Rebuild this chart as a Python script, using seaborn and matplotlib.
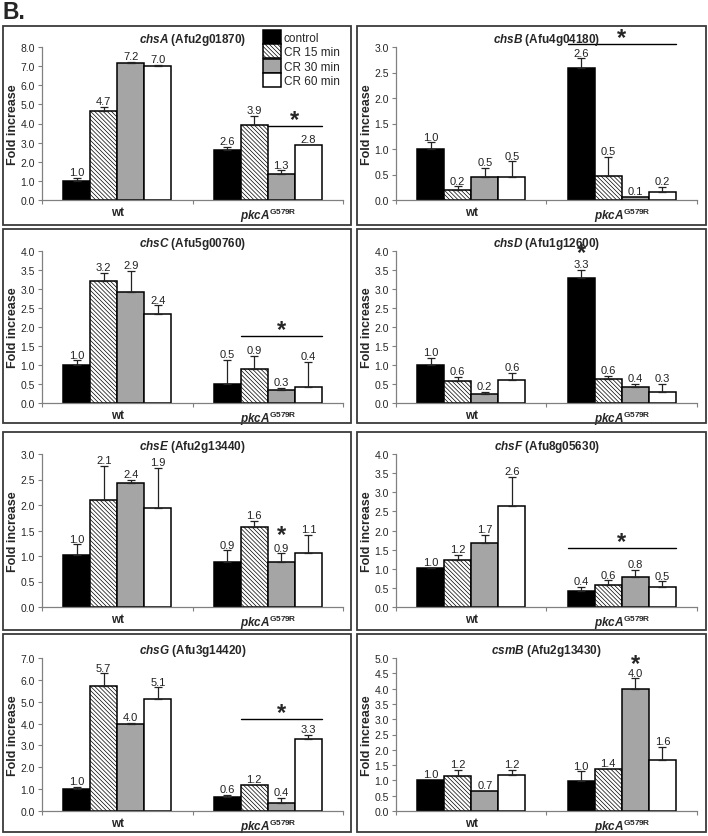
import matplotlib
matplotlib.use("Agg")
import matplotlib.pyplot as plt
import seaborn as sns
import pandas as pd
from matplotlib.patches import Rectangle
from matplotlib.ticker import MultipleLocator, FormatStrFormatter

sns.set_theme(style="ticks")
plt.rcParams.update({
    "font.family": ["Liberation Sans", "DejaVu Sans"],
    "mathtext.fontset": "custom",
    "mathtext.rm": "Liberation Sans",
    "mathtext.it": "Liberation Sans:italic",
    "mathtext.bf": "Liberation Sans:bold",
    "mathtext.bfit": "Liberation Sans:italic:bold",
    "hatch.linewidth": 0.5,
    "figure.facecolor": "white",
})

# ── data ─────────────────────────────────────────────────────────────────────
STRAINS = ["wt", "pkcA"]
STRAIN_LABELS = ["wt", r"$\mathbfit{pkcA}^{\mathbf{G579R}}$"]
TREATMENTS = ["control", "CR 15 min", "CR 30 min", "CR 60 min"]
COLORS = ["black", "white", "#a5a5a5", "white"]

GENES = ["chsA", "chsB", "chsC", "chsD", "chsE", "chsF", "chsG", "csmB"]
LOCI = ["Afu2g01870", "Afu4g04180", "Afu5g00760", "Afu1g12600",
        "Afu2g13440", "Afu8g05630", "Afu3g14420", "Afu2g13430"]
YMAX = [8, 3, 4, 4, 3, 4, 7, 5]
YSTEP = [1, 0.5, 0.5, 0.5, 0.5, 0.5, 1, 0.5]

# fold increase: wt (control, 15, 30, 60) then pkcA (control, 15, 30, 60)
chsA_mean = [1.01, 4.66, 7.17, 7.01, 2.61, 3.91, 1.36, 2.87]
chsA_err = [0.16, 0.21, 0.05, 0.05, 0.17, 0.49, 0.19, 0.0]
chsA_lab = ["1.0", "4.7", "7.2", "7.0", "2.6", "3.9", "1.3", "2.8"]
chsB_mean = [1.0, 0.2, 0.45, 0.45, 2.59, 0.47, 0.065, 0.16]
chsB_err = [0.13, 0.07, 0.18, 0.31, 0.19, 0.37, 0.0, 0.1]
chsB_lab = ["1.0", "0.2", "0.5", "0.5", "2.6", "0.5", "0.1", "0.2"]
chsC_mean = [1.0, 3.2, 2.92, 2.35, 0.51, 0.89, 0.33, 0.41]
chsC_err = [0.12, 0.22, 0.55, 0.22, 0.63, 0.36, 0.06, 0.67]
chsC_lab = ["1.0", "3.2", "2.9", "2.4", "0.5", "0.9", "0.3", "0.4"]
chsD_mean = [1.0, 0.58, 0.23, 0.6, 3.3, 0.63, 0.42, 0.3]
chsD_err = [0.18, 0.1, 0.06, 0.19, 0.21, 0.09, 0.08, 0.21]
chsD_lab = ["1.0", "0.6", "0.2", "0.6", "3.3", "0.6", "0.4", "0.3"]
chsE_mean = [1.01, 2.09, 2.44, 1.95, 0.89, 1.57, 0.89, 1.06]
chsE_err = [0.22, 0.68, 0.05, 0.78, 0.22, 0.12, 0.16, 0.36]
chsE_lab = ["1.0", "2.1", "2.4", "1.9", "0.9", "1.6", "0.9", "1.1"]
chsF_mean = [1.01, 1.23, 1.67, 2.63, 0.43, 0.57, 0.78, 0.53]
chsF_err = [0.02, 0.14, 0.21, 0.77, 0.09, 0.13, 0.19, 0.14]
chsF_lab = ["1.0", "1.2", "1.7", "2.6", "0.4", "0.6", "0.8", "0.5"]
chsG_mean = [0.99, 5.7, 3.99, 5.12, 0.64, 1.21, 0.38, 3.29]
chsG_err = [0.1, 0.6, 0.05, 0.54, 0.09, 0.0, 0.22, 0.2]
chsG_lab = ["1.0", "5.7", "4.0", "5.1", "0.6", "1.2", "0.4", "3.3"]
csmB_mean = [1.01, 1.16, 0.65, 1.17, 0.98, 1.38, 4.0, 1.66]
csmB_err = [0.0, 0.18, 0.0, 0.17, 0.32, 0.0, 0.34, 0.44]
csmB_lab = ["1.0", "1.2", "0.7", "1.2", "1.0", "1.4", "4.0", "1.6"]

MEANS = [chsA_mean, chsB_mean, chsC_mean, chsD_mean, chsE_mean, chsF_mean, chsG_mean, csmB_mean]
ERRS = [chsA_err, chsB_err, chsC_err, chsD_err, chsE_err, chsF_err, chsG_err, csmB_err]
LABS = [chsA_lab, chsB_lab, chsC_lab, chsD_lab, chsE_lab, chsF_lab, chsG_lab, csmB_lab]

# significance (*) in pkcA group: first bar, last bar, level
SIG = [(2, 3, 3.86), (0, 3, 3.06), (1, 3, 1.76), (0, 0, 3.97),
       (2, 2, 1.44), (0, 3, 1.55), (1, 3, 4.22), (2, 2, 4.84)]

# ── layout (pixels) ──────────────────────────────────────────────────────────
W, H = 708, 837
COL_AX = [(42, 343), (396, 697)]
ROW_AX = [(48, 201), (252, 404), (455, 608), (659, 812)]
COL_BOX = [(3, 351), (357, 706)]
ROW_BOX = [(27, 226), (230, 424), (433, 631), (635, 833)]

fig = plt.figure(figsize=(W / 100, H / 100), dpi=100)
fig.text(2 / W, 1 - 1 / H, "B.", fontsize=16.5, fontweight="bold", ha="left", va="top")

STAR_FS = 17


def star(ax, x, y, lift=0):
    # mathtext keeps the text box tight around the glyph
    ax.annotate(r"$\mathbf{*}$", (x, y), xytext=(0, lift), textcoords="offset points",
                ha="center", va="center", fontsize=STAR_FS,
                annotation_clip=False)


for i, gene in enumerate(GENES):
    r, c = divmod(i, 2)
    (x0, x1), (y0, y1) = COL_AX[c], ROW_AX[r]
    ax = fig.add_axes([x0 / W, 1 - y1 / H, (x1 - x0) / W, (y1 - y0) / H])
    (bx0, bx1), (by0, by1) = COL_BOX[c], ROW_BOX[r]
    fig.add_artist(Rectangle((bx0 / W, 1 - by1 / H), (bx1 - bx0) / W, (by1 - by0) / H,
                             transform=fig.transFigure, fill=False,
                             edgecolor="#3a3a3a", lw=1.3))

    df = pd.DataFrame({"strain": [s for s in STRAINS for _ in TREATMENTS],
                       "treatment": TREATMENTS * 2,
                       "fold": MEANS[i]})
    sns.barplot(data=df, x="strain", y="fold", hue="treatment", order=STRAINS,
                hue_order=TREATMENTS, palette=COLORS, saturation=1, width=0.72,
                edgecolor="black", linewidth=1.1, errorbar=None, legend=False, ax=ax)
    bars = list(ax.containers)

    for h, cont in enumerate(bars):
        for s, bar in enumerate(cont.patches):
            if h == 1:
                bar.set_hatch("\\" * 8)
            k = s * 4 + h
            xc = bar.get_x() + bar.get_width() / 2
            top = bar.get_height()
            e = ERRS[i][k]
            if e > 0:
                ax.errorbar(xc, top, yerr=[[0], [e]], fmt="none", ecolor="#222",
                            elinewidth=0.9, capsize=3, capthick=0.9, zorder=3)
            ax.annotate(LABS[i][k], (xc, top + e), xytext=(0, 0.5),
                        textcoords="offset points", ha="center", va="bottom",
                        fontsize=8, color="#222")

    first, last, lvl = SIG[i]
    b0 = bars[first].patches[1]
    b1 = bars[last].patches[1]
    if first == last:
        star(ax, b0.get_x() + b0.get_width() / 2, lvl)
    else:
        ax.plot([b0.get_x(), b1.get_x() + b1.get_width()], [lvl, lvl],
                color="black", lw=1.0, clip_on=False)
        star(ax, (b0.get_x() + b1.get_x() + b1.get_width()) / 2, lvl, lift=5)

    ax.set_ylim(0, YMAX[i])
    ax.set_xlim(-0.5, 1.5)
    ax.yaxis.set_major_locator(MultipleLocator(YSTEP[i]))
    ax.yaxis.set_major_formatter(FormatStrFormatter("%.1f"))
    ax.set_xticks([0, 1])
    ax.set_xticklabels(STRAIN_LABELS, fontweight="bold", fontsize=8.5)
    ax.set_xticks([-0.5, 0.5, 1.5], minor=True)
    ax.tick_params(axis="x", which="major", length=0, pad=4)
    ax.tick_params(axis="x", which="minor", length=3, color="#808080", width=0.8)
    ax.tick_params(axis="y", length=3, color="#808080", width=0.8, labelsize=7.5, pad=2)
    for sp in ["top", "right"]:
        ax.spines[sp].set_visible(False)
    for sp in ["left", "bottom"]:
        ax.spines[sp].set_color("#808080")
        ax.spines[sp].set_linewidth(0.9)
    ax.set_xlabel("")
    ax.set_ylabel("Fold increase", fontsize=9, fontweight="bold")
    ax.yaxis.set_label_coords(-0.078, 0.5)
    ax.set_title(f"$\\mathbfit{{{gene}}}$ ({LOCI[i]})", fontsize=8.5,
                 fontweight="bold", pad=3)
    ax.set_facecolor("white")

    if i == 0:
        ax.legend(bars, TREATMENTS, loc="upper left",
                  bbox_to_anchor=(263 / W, 1 - 31 / H), bbox_transform=fig.transFigure,
                  frameon=False, fontsize=8.5, handlelength=1.5, handleheight=1.4,
                  labelspacing=0.06, handletextpad=0.25, borderpad=0, borderaxespad=0)

fig.savefig("out.png", dpi=100)
